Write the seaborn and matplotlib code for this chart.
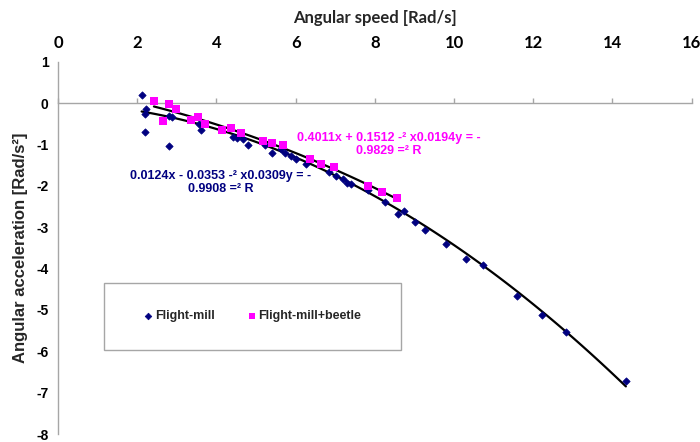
import numpy as np
import pandas as pd
import matplotlib
matplotlib.use('Agg')
import matplotlib.pyplot as plt
import seaborn as sns
from matplotlib.patches import Rectangle

# flight-mill alone (navy diamonds)
mill_x = [2.11, 2.19, 2.19, 2.23, 2.80, 2.80, 2.88, 3.56, 3.60, 4.42, 4.52, 4.66, 4.80,
          5.22, 5.41, 5.64, 5.72, 5.87, 6.02, 6.26, 6.84, 7.01, 7.20, 7.30, 7.39, 7.83,
          8.25, 8.59, 8.74, 9.01, 9.26, 9.79, 10.31, 10.73, 11.58, 12.21, 12.84, 14.34]
mill_y = [0.20, -0.26, -0.69, -0.14, -1.04, -0.30, -0.34, -0.50, -0.64, -0.82, -0.84, -0.86, -1.00,
          -1.02, -1.20, -1.10, -1.20, -1.28, -1.34, -1.46, -1.66, -1.76, -1.84, -1.92, -1.96, -2.10,
          -2.40, -2.68, -2.61, -2.88, -3.06, -3.40, -3.77, -3.90, -4.66, -5.11, -5.54, -6.71]

# flight-mill + beetle (magenta squares)
beetle_x = [2.42, 2.65, 2.80, 2.97, 3.35, 3.54, 3.70, 4.15, 4.36, 4.63, 5.18, 5.39, 5.68,
            6.36, 6.63, 6.97, 7.83, 8.18, 8.55]
beetle_y = [0.06, -0.44, -0.02, -0.14, -0.40, -0.34, -0.50, -0.64, -0.60, -0.72, -0.92, -0.96, -1.02,
            -1.34, -1.46, -1.54, -2.00, -2.14, -2.30]

# polynomial trendlines as printed on the chart (a2, a1, a0)
mill_coef = [-0.0309, -0.0353, 0.0124]
beetle_coef = [-0.0194, -0.1512, 0.4011]
mill_eq = "0.0124x - 0.0353 -² x0.0309y = -\n0.9908 =² R"
beetle_eq = "0.4011x + 0.1512 -² x0.0194y = -\n0.9829 =² R"

navy = '#000080'
magenta = '#FF00FF'

sns.set_theme(style='white')
plt.rcParams['font.family'] = ['Liberation Sans', 'DejaVu Sans']
plt.rcParams['axes.unicode_minus'] = False

mill = pd.DataFrame({'x': mill_x, 'y': mill_y})
beetle = pd.DataFrame({'x': beetle_x, 'y': beetle_y})

fig = plt.figure(figsize=(7, 4.42), dpi=100)
ax = fig.add_axes([0.083, 0.018, 0.905, 0.842])

# trend lines
xm = np.linspace(min(mill_x), max(mill_x), 100)
xb = np.linspace(min(beetle_x), max(beetle_x), 100)
sns.lineplot(x=xm, y=np.polyval(mill_coef, xm), color='black', lw=1.6, ax=ax)
sns.lineplot(x=xb, y=np.polyval(beetle_coef, xb), color='black', lw=1.6, ax=ax)

sns.scatterplot(data=mill, x='x', y='y', marker='D', s=14, color=navy, edgecolor=navy,
                linewidth=0.5, ax=ax, label='Flight-mill', zorder=3)
sns.scatterplot(data=beetle, x='x', y='y', marker='s', s=28, color=magenta, edgecolor=magenta,
                linewidth=0, ax=ax, label='Flight-mill+beetle', zorder=3)

ax.set_xlim(0, 16)
ax.set_ylim(-8, 1)
ax.set_xticks(range(0, 17, 2))
ax.set_yticks(range(-8, 2))

for s in ['right', 'bottom']:
    ax.spines[s].set_visible(False)
ax.spines['top'].set_position(('data', 0))
for s in ['top', 'left']:
    ax.spines[s].set_color('#A6A6A6')
    ax.spines[s].set_linewidth(1.0)

ax.xaxis.tick_top()
ax.xaxis.set_label_position('top')
ax.tick_params(axis='x', direction='out', length=3.5, width=1, color='#A6A6A6', pad=34,
               labelsize=12, labelcolor='black')
ax.tick_params(axis='y', direction='out', length=3, width=1, color='#A6A6A6', pad=4,
               labelsize=10, labelcolor='black')
for lab in ax.get_xticklabels():
    lab.set_family(['Lato', 'DejaVu Sans'])
    lab.set_fontweight('bold')
for lab in ax.get_yticklabels():
    lab.set_fontweight('bold')

ax.set_xlabel('Angular speed [Rad/s]', fontsize=12, fontweight='bold',
              family=['Lato', 'DejaVu Sans'], labelpad=9)
ax.set_ylabel('Angular acceleration [Rad/s²]', fontsize=12, fontweight='bold', labelpad=6)

# equations
ax.text(4.1, -1.92, mill_eq, color=navy, fontsize=9, fontweight='bold', ha='center',
        va='center', linespacing=1.1)
ax.text(8.35, -1.0, beetle_eq, color=magenta, fontsize=9, fontweight='bold', ha='center',
        va='center', linespacing=1.1)

# legend box
ax.add_patch(Rectangle((0.072, 0.226), 0.469, 0.18, transform=ax.transAxes, fill=False,
                       edgecolor='#A6A6A6', lw=1.0, zorder=4))
leg = ax.legend(loc='center left', bbox_to_anchor=(0.117, 0.316), ncol=2, frameon=False,
                fontsize=9, handletextpad=0.1, columnspacing=2.6, handlelength=0.8,
                markerscale=0.9)
for t in leg.get_texts():
    t.set_fontweight('bold')

fig.savefig('out.png', dpi=100)
